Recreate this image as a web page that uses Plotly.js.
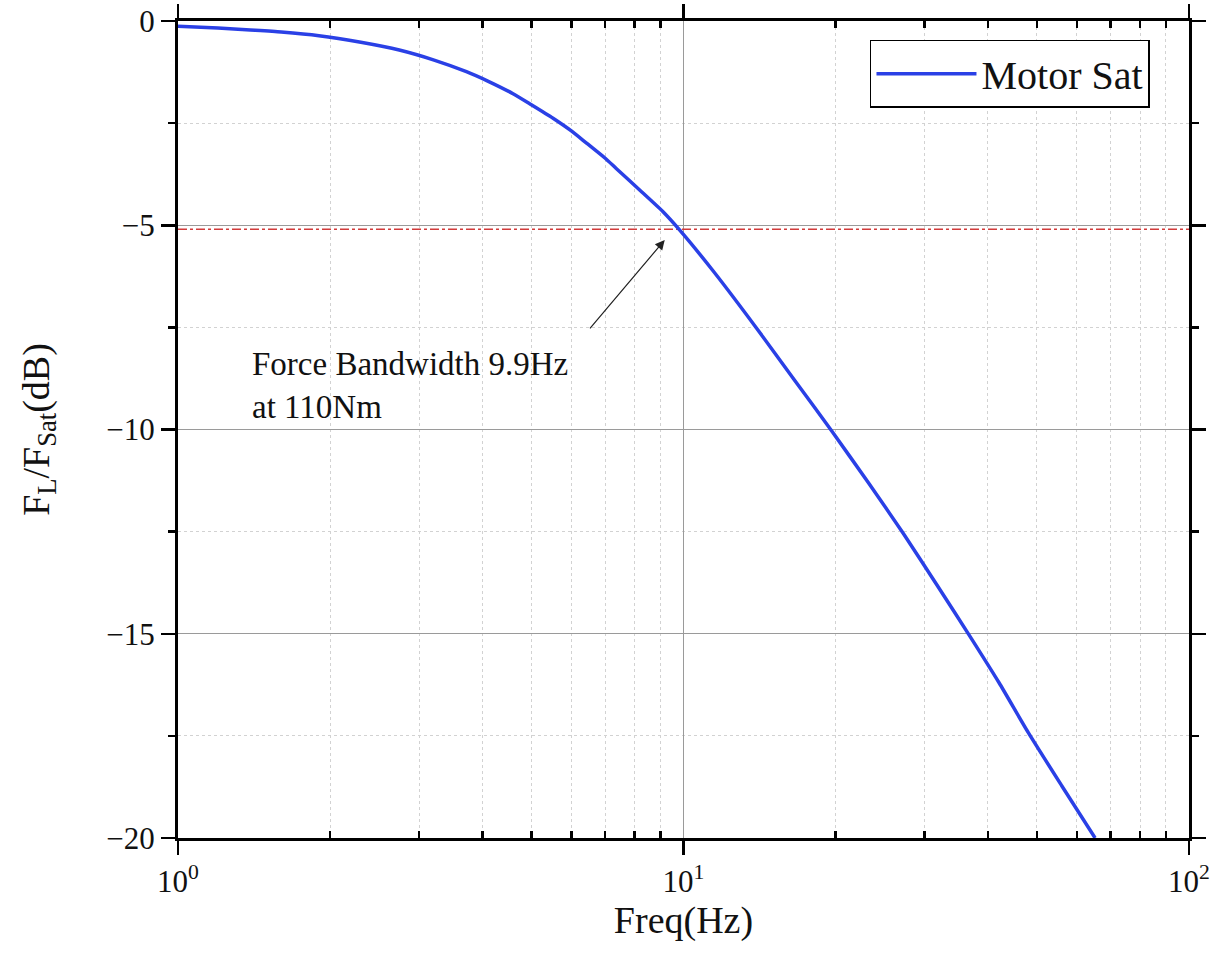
<!DOCTYPE html>
<html>
<head>
<meta charset="utf-8">
<script src="https://cdn.plot.ly/plotly-3.0.1.min.js"></script>
<style>html,body{margin:0;padding:0;background:#fff;}#chart{width:1222px;height:972px;}</style>
</head>
<body>
<div id="chart"></div>
<script>
// Data
const freqHz = [1, 1.2, 1.39, 1.6, 1.9, 2.3, 2.74, 3.2, 3.72, 4.1, 4.6, 5.0, 5.52, 6.0, 6.43, 7.0, 7.36, 8.26, 9.11, 9.83, 11.5, 13.95, 16.6, 19.63, 23.2, 27.2, 31.7, 36.9, 42.1, 48.1, 56.0, 65.2];
const ratioDb = [-0.13, -0.17, -0.22, -0.27, -0.36, -0.52, -0.71, -0.95, -1.24, -1.47, -1.78, -2.05, -2.38, -2.69, -2.99, -3.36, -3.61, -4.18, -4.67, -5.12, -6.15, -7.52, -8.8, -10.03, -11.3, -12.54, -13.8, -15.07, -16.2, -17.42, -18.72, -20.0];
const bandwidthLevelDb = -5.1;
const refLineX = [1, 100];
const xTickVals = [1, 10, 100];
const xTickText = ['10<sup>0</sup>', '10<sup>1</sup>', '10<sup>2</sup>'];
const xMinorVals = [2, 3, 4, 5, 6, 7, 8, 9, 20, 30, 40, 50, 60, 70, 80, 90];
const yTickVals = [0, -5, -10, -15, -20];
const yTickText = ['0', '\u22125', '\u221210', '\u221215', '\u221220'];
const arrowHead = {x: 9.18, y: -5.36};
const noteAnchor = {x: 1.385, y: -8.93};

const serif = '"Liberation Serif", "Times New Roman", serif';

const traces = [
  {
    x: refLineX,
    y: refLineX.map(() => bandwidthLevelDb),
    mode: 'lines',
    line: {color: '#d23b3b', width: 1.5, dash: 'dashdot'},
    showlegend: false,
    hoverinfo: 'skip'
  },
  {
    x: freqHz,
    y: ratioDb,
    mode: 'lines',
    name: 'Motor Sat',
    line: {color: '#2a40e6', width: 3.5, shape: 'spline', smoothing: 0.6}
  }
];

const layout = {
  width: 1222,
  height: 972,
  margin: {l: 178, r: 33, t: 21, b: 134},
  paper_bgcolor: '#fff',
  plot_bgcolor: '#fff',
  font: {family: serif, color: '#111', size: 30},
  showlegend: true,
  legend: {
    x: 0.9614, xanchor: 'right', y: 0.977, yanchor: 'top',
    bordercolor: '#000', borderwidth: 1.5, bgcolor: '#fff',
    font: {family: serif, size: 40, color: '#111'},
    tracegroupgap: 0, itemwidth: 100
  },
  xaxis: {
    type: 'log',
    range: [0, 2],
    tickmode: 'array',
    tickvals: xTickVals,
    ticktext: xTickText,
    ticks: 'outside', ticklen: 14, tickwidth: 2.5, tickcolor: '#000',
    showline: true, linecolor: '#000', linewidth: 3, mirror: 'ticks',
    showgrid: true, gridcolor: '#9a9a9a', gridwidth: 1.2,
    zeroline: false,
    tickfont: {family: serif, size: 31, color: '#111'},
    minor: {
      tickmode: 'array', tickvals: xMinorVals,
      ticks: 'inside', ticklen: 7, tickwidth: 2.5, tickcolor: '#000',
      showgrid: true, gridcolor: '#d2d2d2', griddash: '3px,3px', gridwidth: 1
    },
    title: {text: 'Freq(Hz)', font: {family: serif, size: 38, color: '#111'}, standoff: 8}
  },
  yaxis: {
    range: [-20, 0],
    tickmode: 'array',
    tickvals: yTickVals,
    ticktext: yTickText,
    ticks: 'outside', ticklen: 14, tickwidth: 2.5, tickcolor: '#000',
    showline: true, linecolor: '#000', linewidth: 3, mirror: 'ticks',
    showgrid: true, gridcolor: '#9a9a9a', gridwidth: 1.2,
    zeroline: false,
    tickfont: {family: serif, size: 31, color: '#111'},
    minor: {
      dtick: 2.5,
      ticks: 'outside', ticklen: 7, tickwidth: 2.5, tickcolor: '#000',
      showgrid: true, gridcolor: '#d2d2d2', griddash: '3px,3px', gridwidth: 1
    },
    title: {text: 'F<sub>L</sub>/F<sub>Sat</sub>(dB)', font: {family: serif, size: 38, color: '#111'}, standoff: 46}
  },
  annotations: [
    {
      x: Math.log10(arrowHead.x), y: arrowHead.y, xref: 'x', yref: 'y',
      text: '', showarrow: true, arrowhead: 2, arrowsize: 1.6, arrowwidth: 1.2,
      arrowcolor: '#222', ax: -76, ay: 90
    },
    {
      x: Math.log10(noteAnchor.x), y: noteAnchor.y, xref: 'x', yref: 'y',
      text: 'Force Bandwidth 9.9Hz<br>at 110Nm', showarrow: false,
      xanchor: 'left', yanchor: 'middle', align: 'left',
      font: {family: serif, size: 33, color: '#111'}
    }
  ]
};

Plotly.newPlot('chart', traces, layout, {displayModeBar: false, staticPlot: true});
</script>
</body>
</html>
